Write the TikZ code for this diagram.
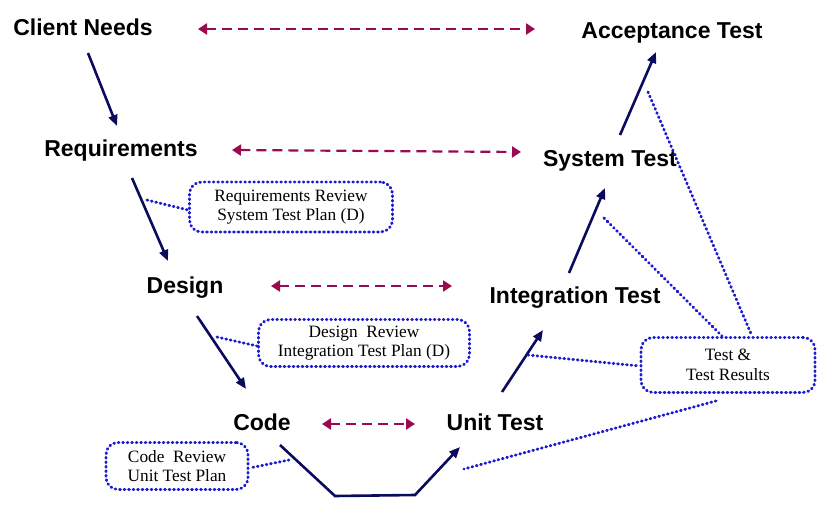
\documentclass[tikz,border=0pt]{standalone}
\usepackage{fontspec}
\setmainfont{Liberation Serif}
\setsansfont{Liberation Sans}
\usetikzlibrary{arrows.meta}
\definecolor{navy}{HTML}{0A0A5E}
\definecolor{maroon}{HTML}{9B0A50}
\definecolor{dotblue}{HTML}{1A1AD0}
\begin{document}
\begin{tikzpicture}[x=1pt,y=-1pt,
  stage/.style={font=\sffamily\bfseries\fontsize{23}{26}\selectfont,inner sep=0pt,text height=17pt,text depth=0pt,anchor=center},
  note/.style={draw=dotblue,line width=2.9pt,dash pattern=on 0.8pt off 3.7pt,line cap=round,rounded corners=12pt,
    font=\fontsize{17.3}{19.5}\selectfont,align=center,inner sep=0pt,minimum width=#1},
  flow/.style={draw=navy,line width=2.6pt,-{Triangle[length=11pt,width=9pt]}},
  link/.style={draw=maroon,line width=2.2pt,dash pattern=on 10pt off 6pt,{Triangle[length=9pt,width=11pt]}-{Triangle[length=9pt,width=11pt]}},
  dots/.style={draw=dotblue,line width=2.9pt,dash pattern=on 0.8pt off 3.7pt,line cap=round}]
\useasboundingbox (0,0) rectangle (825,506);
\node[stage] (cn) at (83,27) {Client Needs};
\node[stage] (at) at (672,30) {Acceptance Test};
\node[stage] (req) at (121,148) {Requirements};
\node[stage] (st) at (610,158) {System Test};
\node[stage] (des) at (185,285) {Design};
\node[stage] (it) at (575,295) {Integration Test};
\node[stage] (code) at (262,422) {Code};
\node[stage] (ut) at (495,422) {Unit Test};
\node[note=203pt,minimum height=50pt] (rb) at (291,207) {Requirements Review\\System Test Plan (D)};
\node[note=211pt,minimum height=47pt] (db) at (364,343) {Design~ Review\\Integration Test Plan (D)};
\node[note=142pt,minimum height=47pt] (cb) at (177,466) {Code~ Review\\Unit Test Plan};
\node[note=174pt,minimum height=55pt] (tb) at (728,365) {Test \&\\Test Results};
% flow arrows
\draw[flow] ([shift={(5,26)}]cn.center) -- ([shift={(-4,-22)}]req.center);
\draw[flow] ([shift={(11,30)}]req.center) -- ([shift={(-17,-24)}]des.center);
\draw[flow] ([shift={(12,31)}]des.center) -- ([shift={(-16,-33)}]code.center);
\draw[flow,line join=miter] ([shift={(18,23)}]code.center) -- ([shift={(73,74)}]code.center) -- ([shift={(-80,73)}]ut.center) -- ([shift={(-35,25)}]ut.center);
\draw[flow] ([shift={(7,-30)}]ut.center) -- ([shift={(-32,35)}]it.center);
\draw[flow] ([shift={(-6,-22)}]it.center) -- ([shift={(-5,30)}]st.center);
\draw[flow] ([shift={(10,-23)}]st.center) -- ([shift={(-16,22)}]at.center);
% correspondence links
\draw[link] ([shift={(115,2)}]cn.center) -- ([shift={(-137,-1)}]at.center);
\draw[link] ([shift={(111,2)}]req.center) -- ([shift={(-89,-6)}]st.center);
\draw[link] ([shift={(86,1)}]des.center) -- ([shift={(-123,-9)}]it.center);
\draw[link] ([shift={(60,2)}]code.center) -- ([shift={(-80,2)}]ut.center);
% dotted note links
\draw[dots] ([shift={(26,52)}]req.center) -- ([yshift=-3pt]rb.west);
\draw[dots] ([shift={(32,52)}]des.center) -- ([yshift=-3pt]db.west);
\draw[dots] ([shift={(27,38)}]code.center) -- ([yshift=-2pt]cb.east);
\draw[dots] ([shift={(-24,62)}]at.center) -- ([xshift=24pt]tb.north);
\draw[dots] ([shift={(-6,60)}]st.center) -- ([xshift=-6pt]tb.north);
\draw[dots] ([shift={(-47,60)}]it.center) -- ([yshift=-1pt]tb.west);
\draw[dots] ([shift={(-12,7)}]tb.south) -- ([shift={(-31,47)}]ut.center);
\end{tikzpicture}
\end{document}
